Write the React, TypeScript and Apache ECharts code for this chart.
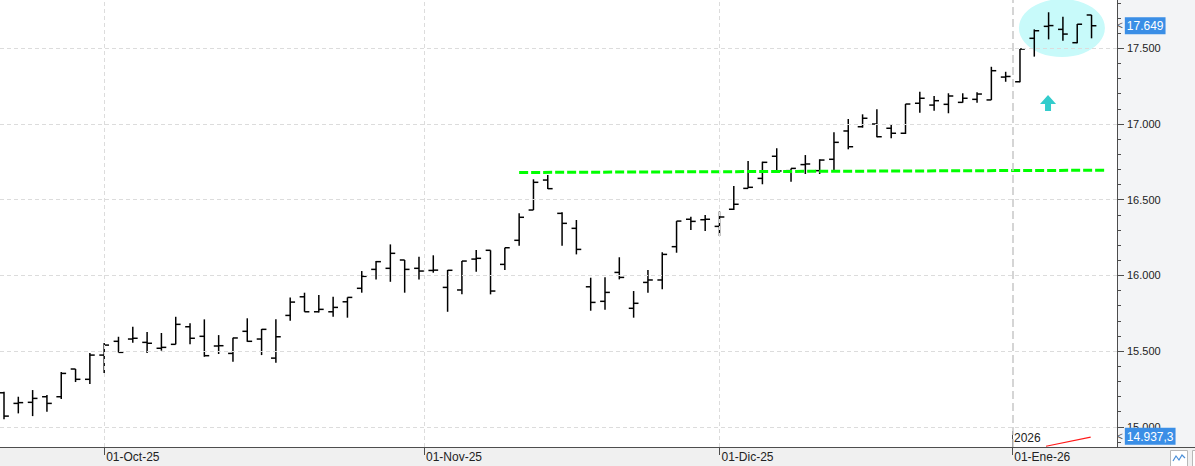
import React, { useEffect, useRef } from 'react';
import * as echarts from 'echarts';

// OHLC values (one per trading session, left to right)
const opens = [
  15225, 15155, 15162, 15199, 15199, 15382, 15314, 15474, 15565, 15580,
  15558, 15519, 15545, 15661, 15598, 15534, 15485, 15631, 15580, 15454,
  15736, 15859, 15760, 15760, 15826, 15915, 16040, 16047, 16102, 16047,
  16033, 15921, 15904, 16108, 16166, 16073, 16232, 16432, 16630, 16410,
  16311, 15925, 15829, 16020, 15783, 15954, 15970, 16190, 16371, 16368,
  16324, 16437, 16575, 16641, 16787, 16692, 16732, 16692, 16767, 16954,
  16982, 17000, 16972, 16939, 17137, 17125, 17130, 17143, 17163, 17159,
  17310, 17279, 17566, 17645, 17625, 17537, 17720,
];
const highs = [
  15232, 15199, 15243, 15210, 15362, 15382, 15487, 15554, 15595, 15661,
  15626, 15620, 15727, 15684, 15710, 15606, 15589, 15717, 15646, 15710,
  15855, 15886, 15871, 15859, 15855, 16029, 16095, 16205, 16102, 16124,
  16133, 16036, 16095, 16168, 16166, 16183, 16410, 16635, 16663, 16417,
  16366, 15985, 15988, 16120, 15897, 16036, 16153, 16359, 16388, 16399,
  16422, 16590, 16756, 16751, 16840, 16707, 16795, 16767, 16945, 17033,
  17064, 17097, 16998, 17132, 17213, 17185, 17203, 17203, 17209, 17378,
  17345, 17495, 17625, 17738, 17709, 17660, 17720,
];
const lows = [
  15050, 15089, 15071, 15100, 15184, 15296, 15283, 15355, 15492, 15555,
  15487, 15503, 15545, 15545, 15463, 15481, 15430, 15562, 15474, 15423,
  15701, 15760, 15756, 15727, 15721, 15886, 15974, 15958, 15886, 15974,
  16018, 15760, 15875, 16024, 15875, 16036, 16196, 16432, 16571, 16196,
  16139, 15767, 15773, 15974, 15721, 15886, 15908, 16150, 16300, 16293,
  16260, 16432, 16575, 16602, 16685, 16619, 16670, 16670, 16692, 16833,
  16976, 16912, 16906, 16934, 17075, 17088, 17071, 17141, 17141, 17159,
  17279, 17275, 17445, 17559, 17550, 17533, 17566,
];
const closes = [
  15071, 15160, 15188, 15155, 15353, 15314, 15474, 15540, 15492, 15585,
  15552, 15525, 15677, 15585, 15470, 15536, 15587, 15565, 15644, 15595,
  15824, 15760, 15776, 15789, 15855, 15994, 16091, 16146, 16040, 16029,
  16035, 16034, 16095, 16113, 15897, 16183, 16384, 16615, 16573, 16344,
  16172, 15822, 15888, 15987, 15816, 15970, 16139, 16359, 16357, 16371,
  16386, 16470, 16582, 16747, 16690, 16707, 16736, 16762, 16879, 16850,
  17038, 16916, 16939, 17132, 17170, 17154, 17185, 17170, 17198, 17352,
  17314, 17495, 17616, 17650, 17594, 17659, 17649,
];

// x axis (session index) labels
const xLabelPositions = [7, 29.35, 50, 70.46];
const xLabels = ['01-Oct-25', '01-Nov-25', '01-Dic-25', '01-Ene-26'];
const yearLabel = '2026';

// y axis ticks
const yLabelValues = [15000, 15500, 16000, 16500, 17000, 17500];
const yMinorTicks = [
  14900, 15000, 15100, 15200, 15300, 15400, 15500, 15600, 15700, 15800,
  15900, 16000, 16100, 16200, 16300, 16400, 16500, 16600, 16700, 16800,
  16900, 17000, 17100, 17200, 17300, 17400, 17500, 17600, 17700, 17800,
];

// annotations
const lastPrice = 17649;
const lowPriceInt = 14937;
const lowPriceDec = 3;
const supportLine = [[36.0, 16680], [76.94, 16695]];
const redLine = [[72.82, 14872], [75.94, 14932]];
const highlightCenter = [[73.93, 17634]];
const arrowPoint = [[72.96, 17139]];

const X_MIN = -0.28;
const X_MAX = 77.78;
const Y_MIN = 14867;
const Y_MAX = 17819;

const FONT = '"Liberation Sans", Arial, sans-serif';

function fmt(v: number): string {
  const t = Math.floor(v / 1000);
  const r = Math.round(v - t * 1000);
  return `${t}.${String(r).padStart(3, '0')}`;
}

export default function App() {
  const ref = useRef<HTMLDivElement>(null);

  useEffect(() => {
    document.body.style.margin = '0';
    if (!ref.current) return;
    const chart = echarts.init(ref.current, undefined, { renderer: 'svg' });

    const ohlcData = opens.map((o, i) => [i, o, highs[i], lows[i], closes[i]]);

    const option: any = {
      animation: false,
      backgroundColor: '#ffffff',
      grid: { left: 0, right: 78, top: 0, bottom: 19, containLabel: false },
      xAxis: {
        type: 'value',
        min: X_MIN,
        max: X_MAX,
        axisLine: { show: true, onZero: false, lineStyle: { color: '#4d4d4d', width: 1 } },
        axisTick: {
          show: true,
          length: 8,
          customValues: xLabelPositions,
          lineStyle: { color: '#4d4d4d' },
        },
        axisLabel: {
          show: true,
          customValues: xLabelPositions,
          formatter: (v: number) => {
            const k = xLabelPositions.findIndex((p) => Math.abs(p - v) < 1e-6);
            return k >= 0 ? xLabels[k] : '';
          },
          align: 'left',
          margin: 4,
          padding: [0, 0, 0, 2],
          color: '#222',
          fontSize: 12,
          fontFamily: FONT,
        },
        splitLine: { show: false },
      },
      yAxis: [
        {
          type: 'value',
          position: 'right',
          min: Y_MIN,
          max: Y_MAX,
          scale: true,
          axisLine: { show: true, onZero: false, lineStyle: { color: '#4d4d4d', width: 1 } },
          axisTick: {
            show: true,
            length: 4,
            customValues: yMinorTicks,
            lineStyle: { color: '#4d4d4d' },
          },
          axisLabel: { show: false },
          splitLine: { show: false },
        },
        {
          type: 'value',
          position: 'right',
          min: Y_MIN,
          max: Y_MAX,
          scale: true,
          axisLine: { show: false, onZero: false },
          axisTick: {
            show: true,
            length: 7,
            customValues: yLabelValues,
            lineStyle: { color: '#4d4d4d' },
          },
          axisLabel: {
            show: true,
            customValues: yLabelValues,
            formatter: (v: number) => fmt(v),
            margin: 10,
            color: '#222',
            fontSize: 11,
            fontFamily: FONT,
          },
          splitLine: { show: false },
        },
      ],
      series: [
        {
          name: 'grid',
          type: 'line',
          z: 0,
          silent: true,
          symbol: 'none',
          data: [[X_MIN, Y_MIN]],
          lineStyle: { opacity: 0 },
          markLine: {
            silent: true,
            animation: false,
            symbol: ['none', 'none'],
            label: { show: false },
            lineStyle: { color: '#dcdcdc', type: [4, 3], width: 1 },
            data: [
              ...yLabelValues.map((v) => ({ yAxis: v })),
              ...xLabelPositions.map((p, k) =>
                k === 3
                  ? { xAxis: p, lineStyle: { color: '#c8c8c8', type: [8, 4], width: 1.5 } }
                  : { xAxis: p }
              ),
            ],
          },
        },
        {
          name: 'highlight',
          type: 'scatter',
          z: 1,
          silent: true,
          symbol: 'circle',
          symbolSize: [86, 58],
          itemStyle: { color: '#c8fafa', opacity: 1 },
          data: highlightCenter,
        },
        {
          name: 'arrow',
          type: 'scatter',
          z: 1,
          silent: true,
          symbol: 'path://M8,0 L16,9 L11,9 L11,16 L5,16 L5,9 L0,9 Z',
          symbolSize: [16, 16],
          itemStyle: { color: '#33cccc', opacity: 1 },
          data: arrowPoint,
        },
        {
          name: 'red',
          type: 'line',
          z: 2,
          silent: true,
          symbol: 'none',
          lineStyle: { color: '#ff1a1a', width: 1.2 },
          data: redLine,
        },
        {
          name: 'ohlc',
          type: 'custom',
          z: 3,
          silent: true,
          encode: { x: 0, y: [1, 2, 3, 4] },
          data: ohlcData,
          renderItem: (params: any, api: any) => {
            const i = api.value(0);
            const o = api.coord([i, api.value(1)]);
            const h = api.coord([i, api.value(2)]);
            const l = api.coord([i, api.value(3)]);
            const c = api.coord([i, api.value(4)]);
            const w = api.size([1, 0])[0] * 0.34;
            const x = h[0];
            const style = { stroke: '#000', lineWidth: 1.5 };
            return {
              type: 'group',
              children: [
                { type: 'line', shape: { x1: x, y1: h[1], x2: x, y2: l[1] }, style },
                { type: 'line', shape: { x1: x - w, y1: o[1], x2: x, y2: o[1] }, style },
                { type: 'line', shape: { x1: x, y1: c[1], x2: x + w, y2: c[1] }, style },
              ],
            };
          },
        },
        {
          name: 'support',
          type: 'line',
          z: 4,
          silent: true,
          symbol: 'none',
          lineStyle: { color: '#00ff00', width: 3, type: [9, 3] },
          data: supportLine,
        },
        {
          name: 'prices',
          type: 'line',
          z: 5,
          silent: true,
          symbol: 'none',
          data: [[X_MIN, Y_MIN]],
          lineStyle: { opacity: 0 },
          markLine: {
            silent: true,
            animation: false,
            symbol: ['none', 'none'],
            lineStyle: { color: 'rgba(0,0,0,0)', width: 0 },
            label: {
              show: true,
              position: 'end',
              distance: 0,
              opacity: 1,
              rich: {
                a: { color: '#555', fontSize: 10, fontFamily: FONT, padding: [0, 2, 0, 0] },
                b: {
                  color: '#fff',
                  backgroundColor: '#3a8ee6',
                  fontSize: 12,
                  fontFamily: FONT,
                  padding: [3, 2, 2, 2],
                },
              },
            },
            data: [
              { yAxis: lastPrice, label: { formatter: `{a|<}{b|${fmt(lastPrice)}}` } },
              {
                yAxis: lowPriceInt + lowPriceDec / 10,
                label: { formatter: `{a|<}{b|${fmt(lowPriceInt)},${lowPriceDec}}` },
              },
            ],
          },
        },
      ],
      graphic: [
        {
          type: 'rect',
          z: -10,
          silent: true,
          shape: { x: 1117, y: 0, width: 78, height: 466 },
          style: { fill: '#f3f4f6' },
        },
        {
          type: 'rect',
          z: -10,
          silent: true,
          shape: { x: 0, y: 447, width: 1195, height: 19 },
          style: { fill: '#f0f0f0' },
        },
        {
          type: 'line',
          silent: true,
          shape: { x1: 1117, y1: 447.5, x2: 1195, y2: 447.5 },
          style: { stroke: '#4d4d4d', lineWidth: 1 },
        },
        {
          type: 'line',
          silent: true,
          shape: { x1: 1012.5, y1: 431, x2: 1012.5, y2: 447 },
          style: { stroke: '#4d4d4d', lineWidth: 1 },
        },
        {
          type: 'text',
          silent: true,
          x: 1014,
          y: 432,
          style: { text: yearLabel, fill: '#222', fontSize: 12, fontFamily: FONT },
        },
        {
          type: 'rect',
          silent: true,
          shape: { x: 1170.5, y: 450.5, width: 17, height: 16 },
          style: { fill: '#ffffff', stroke: '#b8b8b8', lineWidth: 1 },
        },
        {
          type: 'polyline',
          silent: true,
          shape: { points: [[1173, 461], [1176, 456], [1179, 460], [1182, 455], [1185, 458]] },
          style: { stroke: '#4a8fd8', lineWidth: 1.2, fill: null },
        },
        {
          type: 'rect',
          silent: true,
          shape: { x: 1192.5, y: 450.5, width: 10, height: 16 },
          style: { fill: '#ffffff', stroke: '#b8b8b8', lineWidth: 1 },
        },
      ],
    };

    chart.setOption(option);
    return () => {
      chart.dispose();
    };
  }, []);

  return <div ref={ref} style={{ width: 1195, height: 466 }} />;
}
